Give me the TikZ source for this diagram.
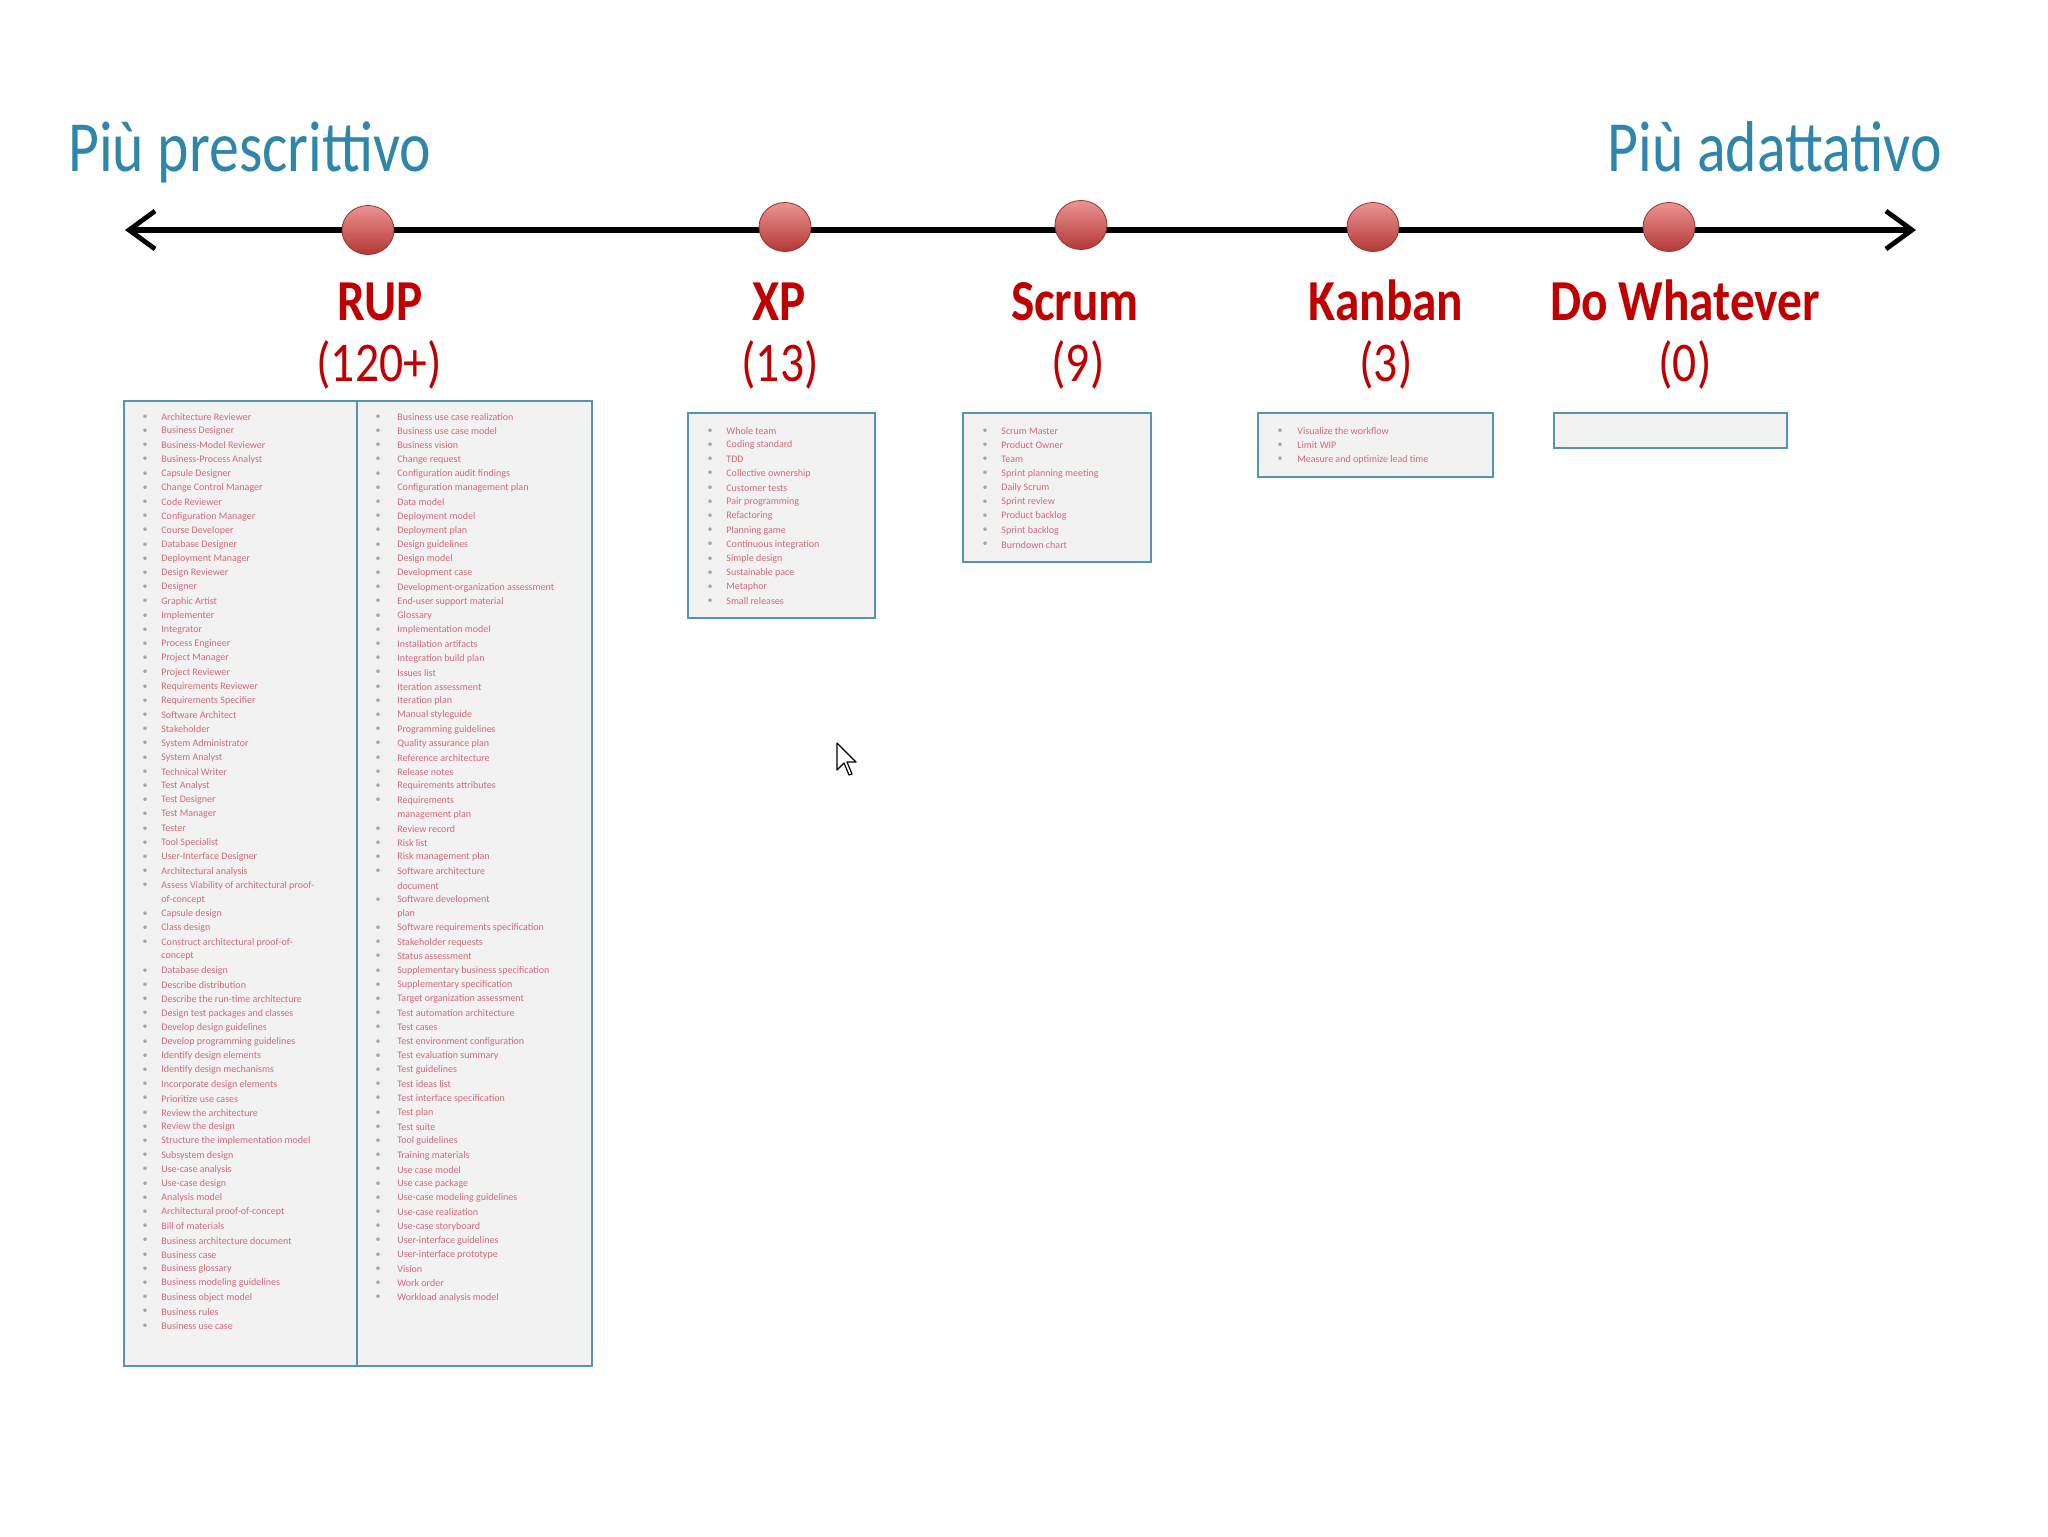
\documentclass[tikz,border=0pt]{standalone}
\usepackage{fontspec}
\setmainfont{Carlito}
\usetikzlibrary{arrows.meta,fit,shapes.geometric}
\definecolor{titleblue}{RGB}{46,134,171}
\definecolor{labelred}{RGB}{192,0,0}
\definecolor{itemred}{RGB}{214,104,118}
\definecolor{bulletgray}{RGB}{165,165,165}
\definecolor{boxfill}{RGB}{242,242,242}
\definecolor{boxline}{RGB}{84,148,180}
\definecolor{dottop}{RGB}{236,148,146}
\definecolor{dotbot}{RGB}{178,56,54}
\newcommand\sq[2]{\scalebox{#1}[1]{#2}}
\tikzset{
  titletext/.style={inner sep=0, text=titleblue, font=\fontsize{36}{40}\selectfont},
  method/.style={inner sep=0, anchor=base, text=labelred, font=\bfseries\fontsize{29}{32}\selectfont},
  countlabel/.style={inner sep=0, anchor=base, text=labelred, font=\fontsize{28}{32}\selectfont},
  dotmark/.style={ellipse, minimum width=26pt, minimum height=24.5pt, inner sep=0,
    top color=dottop, bottom color=dotbot, draw=dotbot!85!black, line width=0.4pt},
  axisline/.style={line width=3.3pt, line cap=butt,
    {Straight Barb[length=13pt,width=19pt,line width=2.4pt]}-{Straight Barb[length=13pt,width=19pt,line width=2.4pt]}},
  listbox/.style={draw=boxline, fill=boxfill, line width=1.3pt, inner sep=0},
  itemtext/.style={anchor=west, inner sep=0, text=itemred, font=\fontsize{5}{6}\selectfont},
  bulletmark/.style={inner sep=0, text=bulletgray, font=\fontsize{5}{6}\selectfont},
}
% #1 name, #2 bullet x, #3 text x, #4 first y, #5 list
\newcommand\listcol[5]{%
  \foreach \b/\t [count=\i] in {#5} {%
    \ifnum\b=1 \node[bulletmark] (#1b\i) at (#2,{#4+(\i-1)*14.2}) {\textbullet}; \fi
    \node[itemtext] (#1t\i) at (#3,{#4+(\i-1)*14.2}) {\t};
  }%
}
\begin{document}
\begin{tikzpicture}[x=0.5pt,y=-0.5pt]
\useasboundingbox (0,0) rectangle (2048,1536);
\fill[white] (0,0) rectangle (2048,1536);

% titles
\node[titletext, anchor=base west] (lefttitle) at (68,171) {\sq{0.83}{Più prescrittivo}};
\node[titletext, anchor=base east] (righttitle) at (1942,171) {\sq{0.83}{Più adattativo}};

% axis
\coordinate (axisL) at (125,230);
\coordinate (axisR) at (1916,230);
\draw[axisline] (axisL) -- (axisR);

% dots
\node[dotmark] (dotrup) at (368,230) {};
\node[dotmark] (dotxp) at (785,227) {};
\node[dotmark] (dotscrum) at (1081,225) {};
\node[dotmark] (dotkanban) at (1373,227) {};
\node[dotmark] (dotdw) at (1669,227) {};

% labels
\node[method] (rup) at (380,320) {\sq{0.85}{RUP}};
\node[method] (xp) at (779,320) {\sq{0.85}{XP}};
\node[method] (scrum) at (1075,320) {\sq{0.85}{Scrum}};
\node[method] (kanban) at (1386,320) {\sq{0.85}{Kanban}};
\node[method] (dw) at (1685,320) {\sq{0.85}{Do Whatever}};

\node[countlabel] (rupn) at (379,381) {\sq{0.85}{(120+)}};
\node[countlabel] (xpn) at (780,381) {\sq{0.85}{(13)}};
\node[countlabel] (scrumn) at (1078,381) {\sq{0.85}{(9)}};
\node[countlabel] (kanbann) at (1386,381) {\sq{0.85}{(3)}};
\node[countlabel] (dwn) at (1685,381) {\sq{0.85}{(0)}};

% boxes
\node[listbox, fit={(124,401) (592,1366)}] (rupbox) {};
\draw[boxline, line width=1.3pt] (357,401) -- (357,1366);
\node[listbox, fit={(688,413) (875,618)}] (xpbox) {};
\node[listbox, fit={(963,413) (1151,562)}] (scrumbox) {};
\node[listbox, fit={(1258,413) (1493,477)}] (kanbanbox) {};
\node[listbox, fit={(1554,413) (1787,448)}] (dwbox) {};

% RUP left column
\listcol{rl}{145}{161}{417}{1/Architecture Reviewer, 1/Business Designer, 1/Business-Model Reviewer,
1/Business-Process Analyst, 1/Capsule Designer, 1/Change Control Manager, 1/Code Reviewer,
1/Configuration Manager, 1/Course Developer, 1/Database Designer, 1/Deployment Manager,
1/Design Reviewer, 1/Designer, 1/Graphic Artist, 1/Implementer, 1/Integrator, 1/Process Engineer,
1/Project Manager, 1/Project Reviewer, 1/Requirements Reviewer, 1/Requirements Specifier,
1/Software Architect, 1/Stakeholder, 1/System Administrator, 1/System Analyst, 1/Technical Writer,
1/Test Analyst, 1/Test Designer, 1/Test Manager, 1/Tester, 1/Tool Specialist,
1/User-Interface Designer, 1/Architectural analysis, 1/Assess Viability of architectural proof-,
0/of-concept, 1/Capsule design, 1/Class design, 1/Construct architectural proof-of-, 0/concept,
1/Database design, 1/Describe distribution, 1/Describe the run-time architecture,
1/Design test packages and classes, 1/Develop design guidelines, 1/Develop programming guidelines,
1/Identify design elements, 1/Identify design mechanisms, 1/Incorporate design elements,
1/Prioritize use cases, 1/Review the architecture, 1/Review the design,
1/Structure the implementation model, 1/Subsystem design, 1/Use-case analysis, 1/Use-case design,
1/Analysis model, 1/Architectural proof-of-concept, 1/Bill of materials,
1/Business architecture document, 1/Business case, 1/Business glossary,
1/Business modeling guidelines, 1/Business object model, 1/Business rules, 1/Business use case}

% RUP right column
\listcol{rr}{378}{397}{417}{1/Business use case realization, 1/Business use case model, 1/Business vision,
1/Change request, 1/Configuration audit findings, 1/Configuration management plan, 1/Data model,
1/Deployment model, 1/Deployment plan, 1/Design guidelines, 1/Design model, 1/Development case,
1/Development-organization assessment, 1/End-user support material, 1/Glossary,
1/Implementation model, 1/Installation artifacts, 1/Integration build plan, 1/Issues list,
1/Iteration assessment, 1/Iteration plan, 1/Manual styleguide, 1/Programming guidelines,
1/Quality assurance plan, 1/Reference architecture, 1/Release notes, 1/Requirements attributes,
1/Requirements, 0/management plan, 1/Review record, 1/Risk list, 1/Risk management plan,
1/Software architecture, 0/document, 1/Software development, 0/plan,
1/Software requirements specification, 1/Stakeholder requests, 1/Status assessment,
1/Supplementary business specification, 1/Supplementary specification,
1/Target organization assessment, 1/Test automation architecture, 1/Test cases,
1/Test environment configuration, 1/Test evaluation summary, 1/Test guidelines, 1/Test ideas list,
1/Test interface specification, 1/Test plan, 1/Test suite, 1/Tool guidelines, 1/Training materials,
1/Use case model, 1/Use case package, 1/Use-case modeling guidelines, 1/Use-case realization,
1/Use-case storyboard, 1/User-interface guidelines, 1/User-interface prototype, 1/Vision,
1/Work order, 1/Workload analysis model}

% XP
\listcol{xp}{710}{726}{431}{1/Whole team, 1/Coding standard, 1/TDD, 1/Collective ownership,
1/Customer tests, 1/Pair programming, 1/Refactoring, 1/Planning game, 1/Continuous integration,
1/Simple design, 1/Sustainable pace, 1/Metaphor, 1/Small releases}

% Scrum
\listcol{sc}{985}{1001}{431}{1/Scrum Master, 1/Product Owner, 1/Team, 1/Sprint planning meeting,
1/Daily Scrum, 1/Sprint review, 1/Product backlog, 1/Sprint backlog, 1/Burndown chart}

% Kanban
\listcol{kb}{1280}{1297}{431}{1/Visualize the workflow, 1/Limit WIP, 1/Measure and optimize lead time}

% mouse cursor
\draw[fill=white, draw=black, line width=0.6pt, line join=round]
  (837,743) -- (837,770) -- (844,763) -- (849,775) -- (852,774) -- (847,762) -- (856,762) -- cycle;
\end{tikzpicture}
\end{document}
